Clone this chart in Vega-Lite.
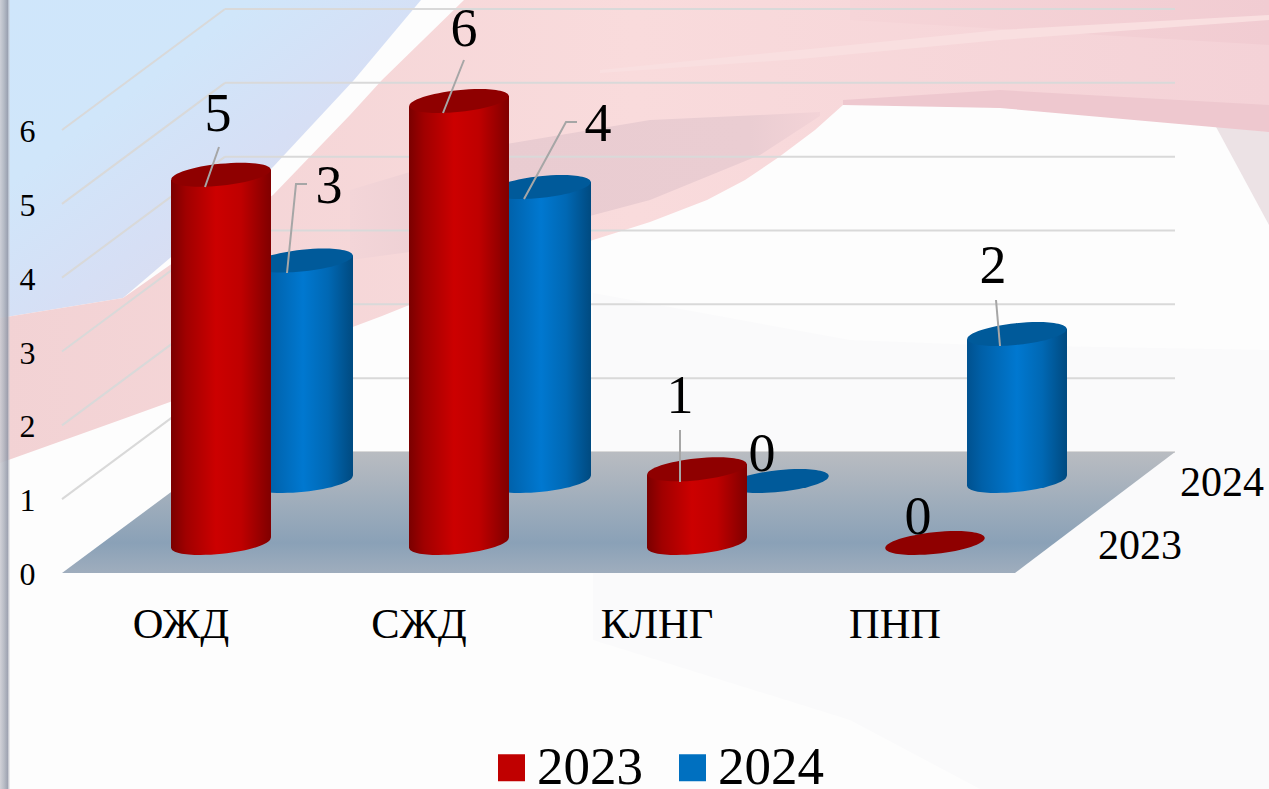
{
"$schema":"https://vega.github.io/schema/vega-lite/v6.json",
"width":1269,"height":789,"autosize":{"type":"none"},"padding":0,"background":"#fdfdfd",
"config":{"view":{"stroke":null},"font":"Liberation Serif"},
"datasets":{
"series":[
{"category":"ОЖД","year":"2023","value":5},{"category":"СЖД","year":"2023","value":6},{"category":"КЛНГ","year":"2023","value":1},{"category":"ПНП","year":"2023","value":0},
{"category":"ОЖД","year":"2024","value":3},{"category":"СЖД","year":"2024","value":4},{"category":"КЛНГ","year":"2024","value":0},{"category":"ПНП","year":"2024","value":2}],
"levels":[{"level":0},{"level":1},{"level":2},{"level":3},{"level":4},{"level":5},{"level":6}],
"shapes":[
{"s":"grey","sx":59.3,"top":29.3,"bot":64},{"s":"grey","sx":85,"top":34,"bot":72},{"s":"grey","sx":98,"top":34.5,"bot":78.9},{"s":"grey","sx":126.9,"top":35,"bot":78.9},
{"s":"tri","sx":121.5,"top":12.5,"bot":12.5},{"s":"tri","sx":126.9,"top":13.2,"bot":22.5},
{"s":"blue","sx":0,"top":0,"bot":31.8},{"s":"blue","sx":12.3,"top":0,"bot":29.8},{"s":"blue","sx":17,"top":0,"bot":25.8},{"s":"blue","sx":27.3,"top":0,"bot":16.7},{"s":"blue","sx":35.4,"top":0,"bot":8},{"s":"blue","sx":42.1,"top":0,"bot":0},
{"s":"pink","sx":0,"top":31.8,"bot":46.3},{"s":"pink","sx":12.3,"top":29.8,"bot":41.9},{"s":"pink","sx":17,"top":26.5,"bot":40.2},{"s":"pink","sx":27.3,"top":19.5,"bot":36},{"s":"pink","sx":35,"top":11.5,"bot":32.8},{"s":"pink","sx":38.2,"top":8,"bot":31.6},{"s":"pink","sx":46.4,"top":0,"bot":28.3},{"s":"pink","sx":59.3,"top":0,"bot":24},{"s":"pink","sx":65,"top":0,"bot":22.2},{"s":"pink","sx":70.7,"top":0,"bot":20},{"s":"pink","sx":74.5,"top":0,"bot":18},{"s":"pink","sx":77.9,"top":0,"bot":15.7},{"s":"pink","sx":81.5,"top":0,"bot":13},{"s":"pink","sx":84.3,"top":0,"bot":10.5},{"s":"pink","sx":96,"top":0,"bot":10.5},{"s":"pink","sx":104,"top":0,"bot":11},{"s":"pink","sx":114,"top":0,"bot":11.5},{"s":"pink","sx":121.5,"top":0,"bot":12.5},{"s":"pink","sx":126.9,"top":0,"bot":13.2},
{"s":"rose","sx":35,"top":19,"bot":26},{"s":"rose","sx":50,"top":14.5,"bot":24},{"s":"rose","sx":65,"top":12,"bot":20},{"s":"rose","sx":76,"top":11.5,"bot":15.5},{"s":"rose","sx":82,"top":11.2,"bot":11.6},
{"s":"rose2","sx":84.3,"top":10,"bot":10.5},{"s":"rose2","sx":100,"top":9,"bot":10.8},{"s":"rose2","sx":126.9,"top":10.5,"bot":13.2},
{"s":"rose3","sx":85,"top":0,"bot":2},{"s":"rose3","sx":126.9,"top":0,"bot":4.5},
{"s":"streak","sx":60,"top":7,"bot":7.3},{"s":"streak","sx":80,"top":5,"bot":5.9},{"s":"streak","sx":100,"top":3,"bot":4},{"s":"streak","sx":126.9,"top":1.5,"bot":2},
{"s":"floor","sx":6.2,"top":57.3,"bot":57.3},{"s":"floor","sx":22.5,"top":45.2,"bot":57.3},{"s":"floor","sx":101.5,"top":45.2,"bot":57.3},{"s":"floor","sx":117.5,"top":45.2,"bot":45.2}],
"leaders":[
{"id":"a","seq":1,"sx":21.9,"sy":14.7},{"id":"a","seq":2,"sx":20.5,"sy":18.7},
{"id":"b","seq":1,"sx":46.4,"sy":6},{"id":"b","seq":2,"sx":44.3,"sy":11.3},
{"id":"c","seq":1,"sx":30.7,"sy":18.4},{"id":"c","seq":2,"sx":29.6,"sy":18.4},{"id":"c","seq":3,"sx":28.7,"sy":27.3},
{"id":"d","seq":1,"sx":57.7,"sy":12.2},{"id":"d","seq":2,"sx":56.6,"sy":12.2},{"id":"d","seq":3,"sx":52.4,"sy":19.9},
{"id":"e","seq":1,"sx":68,"sy":43},{"id":"e","seq":2,"sx":68,"sy":48.2},
{"id":"f","seq":1,"sx":99.6,"sy":30},{"id":"f","seq":2,"sx":100,"sy":34.6}],
"depth":[{"name":"2023","sx":114,"sy":54.6},{"name":"2024","sx":122.2,"sy":48.3}],
"strip":[{"sx":0,"sy":0}]
},
"layer":[
{"encoding":{
"x":{"field":"sx","type":"quantitative","scale":{"domain":[0,126.9],"range":[0,1269],"nice":false,"zero":false},"axis":null},
"y":{"field":"top","type":"quantitative","scale":{"domain":[0,78.9],"range":[0,789],"nice":false,"zero":false},"axis":null},
"y2":{"field":"bot"}},
"layer":[
{"data":{"name":"shapes"},"transform":[{"filter":"datum.s==='grey'"}],"mark":{"type":"area","fill":"#fafafb"}},
{"data":{"name":"shapes"},"transform":[{"filter":"datum.s==='tri'"}],"mark":{"type":"area","fill":"#ece2e5"}},
{"data":{"name":"shapes"},"transform":[{"filter":"datum.s==='blue'"}],"mark":{"type":"area","fill":{"gradient":"linear","x1":0,"y1":0,"x2":1,"y2":1,"stops":[{"offset":0,"color":"#cfe6fb"},{"offset":0.3,"color":"#d0e6fa"},{"offset":0.55,"color":"#d6dff5"},{"offset":1,"color":"#e2d8e4"}]}}},
{"data":{"name":"shapes"},"transform":[{"filter":"datum.s==='pink'"}],"mark":{"type":"area","fill":{"gradient":"linear","x1":0,"y1":0,"x2":1,"y2":0,"stops":[{"offset":0,"color":"#f2d2d4"},{"offset":0.5,"color":"#f9dbdc"},{"offset":1,"color":"#f4d2d7"}]}}},
{"data":{"name":"shapes"},"transform":[{"filter":"datum.s==='rose'"}],"mark":{"type":"area","fill":{"gradient":"linear","x1":0,"y1":0,"x2":1,"y2":0,"stops":[{"offset":0,"color":"#f3d5d8"},{"offset":0.3,"color":"#e9ccd1"},{"offset":0.85,"color":"#eacdd2"},{"offset":1,"color":"#f3d3d7"}]}}},
{"data":{"name":"shapes"},"transform":[{"filter":"datum.s==='rose2'"}],"mark":{"type":"area","fill":"#eec8cf"}},
{"data":{"name":"shapes"},"transform":[{"filter":"datum.s==='rose3'"}],"mark":{"type":"area","fill":{"gradient":"linear","x1":0,"y1":0,"x2":1,"y2":0,"stops":[{"offset":0,"color":"#f6d5d8"},{"offset":1,"color":"#f1ccd2"}]}}},
{"data":{"name":"shapes"},"transform":[{"filter":"datum.s==='streak'"}],"mark":{"type":"area","fill":"#f9dfe0"}}
]},
{"data":{"name":"levels"},
"encoding":{
"y":{"field":"level","type":"quantitative","scale":{"domain":[0,6],"range":[573,130],"nice":false,"zero":false},
"axis":{"orient":"left","offset":-40,"values":[0,1,2,3,4,5,6],"format":"d","title":null,"domain":false,"ticks":false,"grid":false,"labelPadding":5,"labelOffset":1.5,"labelFont":"Liberation Serif","labelFontSize":32,"labelColor":"#000000","zindex":1}},
"x":{"datum":22.5,"type":"quantitative","scale":{"domain":[0,126.9],"range":[0,1269],"nice":false,"zero":false},"axis":null}},
"layer":[
{"mark":{"type":"rule","color":"#d9d9d9","strokeWidth":2,"yOffset":-121},"encoding":{"x2":{"datum":117.5}}},
{"transform":[{"filter":"datum.level>0"}],"mark":{"type":"rule","color":"#d9d9d9","strokeWidth":2,"y2Offset":0,"yOffset":-121},"encoding":{"x2":{"datum":6.2},"y2":{"field":"level"}}}
]},
{"data":{"name":"shapes"},"transform":[{"filter":"datum.s==='floor'"}],
"mark":{"type":"area","fill":{"gradient":"linear","x1":0,"y1":0,"x2":0,"y2":1,"stops":[{"offset":0,"color":"#b9bcc1"},{"offset":0.75,"color":"#8aa1b7"},{"offset":1,"color":"#9fadbd"}]}},
"encoding":{
"x":{"field":"sx","type":"quantitative","scale":{"domain":[0,126.9],"range":[0,1269],"nice":false,"zero":false},"axis":null},
"y":{"field":"top","type":"quantitative","scale":{"domain":[0,78.9],"range":[0,789],"nice":false,"zero":false},"axis":null},
"y2":{"field":"bot"}}},
{"data":{"name":"series"},"transform":[{"filter":"datum.year==='2024'"}],
"encoding":{
"x":{"field":"category","type":"nominal","sort":null,"scale":{"type":"band","domain":["ОЖД","СЖД","КЛНГ","ПНП"],"range":[184,1136],"paddingInner":0.58,"paddingOuter":0.29},"axis":null},
"y":{"field":"value","type":"quantitative","scale":{"domain":[0,6],"range":[481,40],"nice":false,"zero":false},"axis":null}},
"layer":[
{"transform":[{"filter":"datum.value>0"}],"mark":{"type":"bar","yOffset":12},"encoding":{"y2":{"datum":0.2},"color":{"field":"year","type":"nominal","scale":{"domain":["2023","2024"],"range":["#c00000","#0070c0"]},
"legend":{"title":null,"orient":"none","legendX":485,"legendY":741,"direction":"horizontal","symbolType":"square","symbolSize":729,"symbolStrokeWidth":0,"labelFont":"Liberation Serif","labelFontSize":53,"labelColor":"#000000","labelOffset":-1,"columnPadding":23,"zindex":1}}}},
{"transform":[{"filter":"datum.value>0"}],"mark":{"type":"bar","yOffset":12,"fill":{"gradient":"linear","x1":0,"y1":0,"x2":1,"y2":0,"stops":[{"offset":0,"color":"#00518f"},{"offset":0.15,"color":"#0060a8"},{"offset":0.5,"color":"#0078d0"},{"offset":0.75,"color":"#0068b4"},{"offset":1,"color":"#004a80"}]}},"encoding":{"y2":{"datum":0.2}}},
{"transform":[{"filter":"datum.value>0"}],"mark":{"type":"point","filled":true,"opacity":1,"size":10000,"angle":354,"shape":"M-1,0 C-1,-0.12 -0.55,-0.218 0,-0.218 C0.55,-0.218 1,-0.12 1,0 C1,0.12 0.55,0.218 0,0.218 C-0.55,0.218 -1,0.12 -1,0 Z","fill":{"gradient":"linear","x1":0,"y1":0,"x2":1,"y2":0,"stops":[{"offset":0,"color":"#00518f"},{"offset":0.15,"color":"#0060a8"},{"offset":0.5,"color":"#0078d0"},{"offset":0.75,"color":"#0068b4"},{"offset":1,"color":"#004a80"}]}},"encoding":{"y":{"datum":0}}},
{"transform":[{"filter":"datum.value>0"}],"mark":{"type":"point","filled":true,"opacity":1,"size":10000,"shape":"M-1,0.105 L-1,-0.32 L1,-0.32 L1,-0.105 Z","fill":{"gradient":"linear","x1":0,"y1":0,"x2":1,"y2":0,"stops":[{"offset":0,"color":"#00518f"},{"offset":0.15,"color":"#0060a8"},{"offset":0.5,"color":"#0078d0"},{"offset":0.75,"color":"#0068b4"},{"offset":1,"color":"#004a80"}]}},"encoding":{"y":{"datum":0}}},
{"transform":[{"filter":"datum.value>0"}],"mark":{"type":"point","filled":true,"opacity":1,"size":10000,"shape":"M-1,0.105 L1,-0.105 L1,0.3 L-1,0.3 Z","fill":{"gradient":"linear","x1":0,"y1":0,"x2":1,"y2":0,"stops":[{"offset":0,"color":"#00518f"},{"offset":0.15,"color":"#0060a8"},{"offset":0.5,"color":"#0078d0"},{"offset":0.75,"color":"#0068b4"},{"offset":1,"color":"#004a80"}]}}},
{"mark":{"type":"point","filled":true,"opacity":1,"size":10000,"angle":354,"shape":"M-1,0 C-1,-0.12 -0.55,-0.218 0,-0.218 C0.55,-0.218 1,-0.12 1,0 C1,0.12 0.55,0.218 0,0.218 C-0.55,0.218 -1,0.12 -1,0 Z","fill":"#005a9a"}},
{"transform":[{"filter":"datum.category==='ОЖД'"}],"mark":{"type":"text","font":"Liberation Serif","fontSize":54,"color":"#000000","dx":26,"dy":-74},"encoding":{"text":{"field":"value","type":"quantitative"}}},
{"transform":[{"filter":"datum.category==='СЖД'"}],"mark":{"type":"text","font":"Liberation Serif","fontSize":54,"color":"#000000","dx":57,"dy":-62},"encoding":{"text":{"field":"value","type":"quantitative"}}},
{"transform":[{"filter":"datum.category==='КЛНГ'"}],"mark":{"type":"text","font":"Liberation Serif","fontSize":54,"color":"#000000","dx":-17,"dy":-26},"encoding":{"text":{"field":"value","type":"quantitative"}}},
{"transform":[{"filter":"datum.category==='ПНП'"}],"mark":{"type":"text","font":"Liberation Serif","fontSize":54,"color":"#000000","dx":-24,"dy":-67},"encoding":{"text":{"field":"value","type":"quantitative"}}}
]},
{"data":{"name":"series"},"transform":[{"filter":"datum.year==='2023'"}],
"encoding":{
"x":{"field":"category","type":"nominal","sort":null,"scale":{"type":"band","domain":["ОЖД","СЖД","КЛНГ","ПНП"],"range":[102,1054],"paddingInner":0.58,"paddingOuter":0.29},
"axis":{"orient":"bottom","offset":-152,"title":null,"domain":false,"ticks":false,"tickSize":0,"grid":false,"labelAngle":0,"labelPadding":0,"labelOffset":-40,"labelBaseline":"alphabetic","labelAlign":"center","labelFont":"Liberation Serif","labelFontSize":42.5,"labelColor":"#000000","zindex":1}},
"y":{"field":"value","type":"quantitative","scale":{"domain":[0,6],"range":[543,101],"nice":false,"zero":false},"axis":null}},
"layer":[
{"transform":[{"filter":"datum.value>0"}],"mark":{"type":"bar","yOffset":12},"encoding":{"y2":{"datum":0.2},"color":{"field":"year","type":"nominal","scale":{"domain":["2023","2024"],"range":["#c00000","#0070c0"]}}}},
{"transform":[{"filter":"datum.value>0"}],"mark":{"type":"bar","yOffset":12,"fill":{"gradient":"linear","x1":0,"y1":0,"x2":1,"y2":0,"stops":[{"offset":0,"color":"#7a0000"},{"offset":0.15,"color":"#a00000"},{"offset":0.45,"color":"#cc0000"},{"offset":0.7,"color":"#bf0000"},{"offset":0.95,"color":"#8a0000"},{"offset":1,"color":"#800000"}]}},"encoding":{"y2":{"datum":0.2}}},
{"transform":[{"filter":"datum.value>0"}],"mark":{"type":"point","filled":true,"opacity":1,"size":10000,"angle":354,"shape":"M-1,0 C-1,-0.12 -0.55,-0.218 0,-0.218 C0.55,-0.218 1,-0.12 1,0 C1,0.12 0.55,0.218 0,0.218 C-0.55,0.218 -1,0.12 -1,0 Z","fill":{"gradient":"linear","x1":0,"y1":0,"x2":1,"y2":0,"stops":[{"offset":0,"color":"#7a0000"},{"offset":0.15,"color":"#a00000"},{"offset":0.45,"color":"#cc0000"},{"offset":0.7,"color":"#bf0000"},{"offset":0.95,"color":"#8a0000"},{"offset":1,"color":"#800000"}]}},"encoding":{"y":{"datum":0}}},
{"transform":[{"filter":"datum.value>0"}],"mark":{"type":"point","filled":true,"opacity":1,"size":10000,"shape":"M-1,0.105 L-1,-0.32 L1,-0.32 L1,-0.105 Z","fill":{"gradient":"linear","x1":0,"y1":0,"x2":1,"y2":0,"stops":[{"offset":0,"color":"#7a0000"},{"offset":0.15,"color":"#a00000"},{"offset":0.45,"color":"#cc0000"},{"offset":0.7,"color":"#bf0000"},{"offset":0.95,"color":"#8a0000"},{"offset":1,"color":"#800000"}]}},"encoding":{"y":{"datum":0}}},
{"transform":[{"filter":"datum.value>0"}],"mark":{"type":"point","filled":true,"opacity":1,"size":10000,"shape":"M-1,0.105 L1,-0.105 L1,0.3 L-1,0.3 Z","fill":{"gradient":"linear","x1":0,"y1":0,"x2":1,"y2":0,"stops":[{"offset":0,"color":"#7a0000"},{"offset":0.15,"color":"#a00000"},{"offset":0.45,"color":"#cc0000"},{"offset":0.7,"color":"#bf0000"},{"offset":0.95,"color":"#8a0000"},{"offset":1,"color":"#800000"}]}}},
{"mark":{"type":"point","filled":true,"opacity":1,"size":10000,"angle":354,"shape":"M-1,0 C-1,-0.12 -0.55,-0.218 0,-0.218 C0.55,-0.218 1,-0.12 1,0 C1,0.12 0.55,0.218 0,0.218 C-0.55,0.218 -1,0.12 -1,0 Z","fill":"#8f0000"}},
{"transform":[{"filter":"datum.category==='ОЖД'"}],"mark":{"type":"text","font":"Liberation Serif","fontSize":54,"color":"#000000","dx":-3,"dy":-60},"encoding":{"text":{"field":"value","type":"quantitative"}}},
{"transform":[{"filter":"datum.category==='СЖД'"}],"mark":{"type":"text","font":"Liberation Serif","fontSize":54,"color":"#000000","dx":5,"dy":-71},"encoding":{"text":{"field":"value","type":"quantitative"}}},
{"transform":[{"filter":"datum.category==='КЛНГ'"}],"mark":{"type":"text","font":"Liberation Serif","fontSize":54,"color":"#000000","dx":-17,"dy":-72},"encoding":{"text":{"field":"value","type":"quantitative"}}},
{"transform":[{"filter":"datum.category==='ПНП'"}],"mark":{"type":"text","font":"Liberation Serif","fontSize":54,"color":"#000000","dx":-17,"dy":-25},"encoding":{"text":{"field":"value","type":"quantitative"}}}
]},
{"encoding":{
"x":{"field":"sx","type":"quantitative","scale":{"domain":[0,126.9],"range":[0,1269],"nice":false,"zero":false},"axis":null},
"y":{"field":"sy","type":"quantitative","scale":{"domain":[0,78.9],"range":[0,789],"nice":false,"zero":false},"axis":null}},
"layer":[
{"data":{"name":"leaders"},"mark":{"type":"line","color":"#a6a6a6","strokeWidth":2},"encoding":{"detail":{"field":"id"},"order":{"field":"seq"}}},
{"data":{"name":"depth"},"mark":{"type":"text","font":"Liberation Serif","fontSize":42,"color":"#000000"},"encoding":{"text":{"field":"name"}}},
{"data":{"name":"strip"},"mark":{"type":"rect","fill":{"gradient":"linear","x1":0,"y1":0,"x2":1,"y2":0,"stops":[{"offset":0,"color":"rgba(205,205,212,0.9)"},{"offset":0.4,"color":"rgba(178,182,192,0.9)"},{"offset":0.75,"color":"rgba(150,155,170,0.9)"},{"offset":1,"color":"rgba(215,215,220,0.3)"}]}},"encoding":{"x2":{"datum":1},"y2":{"datum":78.9}}}
]}
],
"resolve":{"scale":{"x":"independent","y":"independent"}}
}
